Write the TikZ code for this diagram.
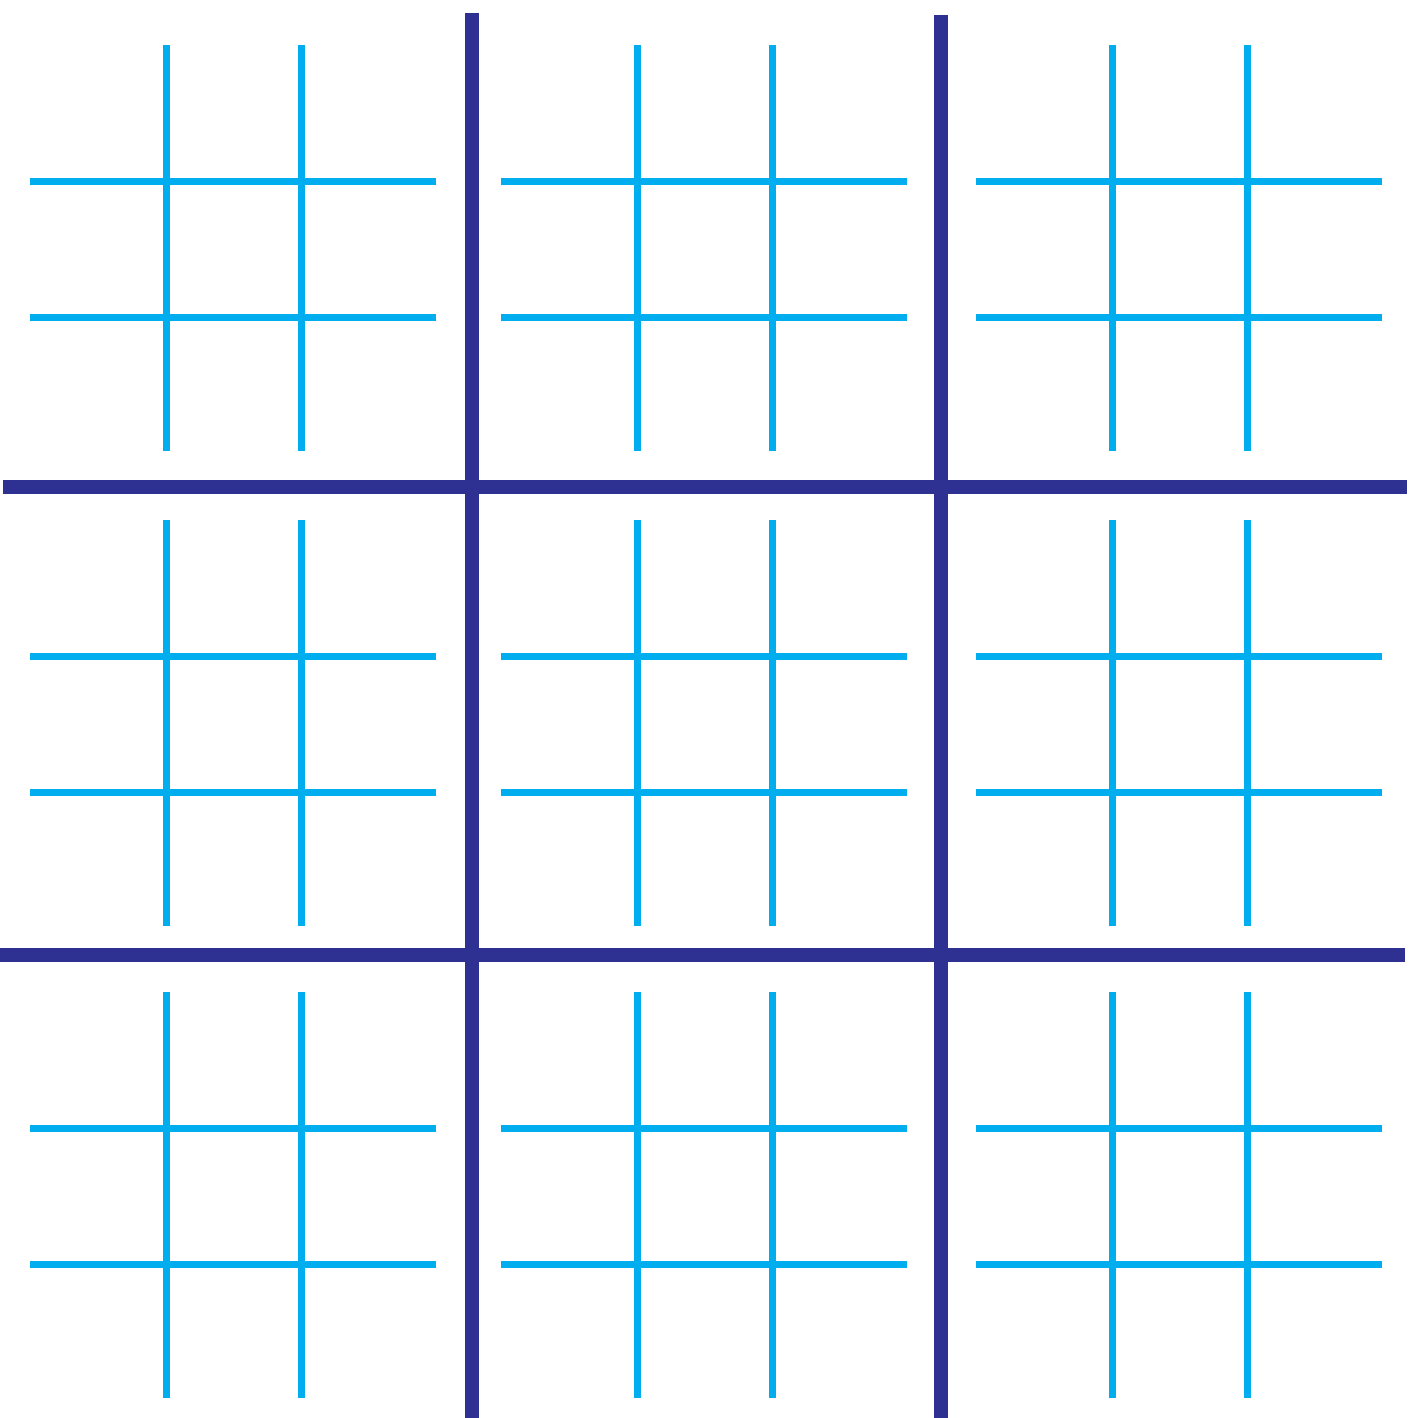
\documentclass[tikz,border=0pt]{standalone}
\usepackage{tikz}

\definecolor{boardnavy}{RGB}{46,49,146}
\definecolor{cellcyan}{RGB}{0,174,239}

\begin{document}
\begin{tikzpicture}[x=0.5pt,y=-0.5pt,
  bigline/.style={boardnavy,line width=7pt},
  smallline/.style={cellcyan,line width=3.5pt}]
  \useasboundingbox (0,0) rectangle (1408,1418);
  % small boards
  \foreach \dx in {0,471,946}{
    \foreach \dy in {0,475,947}{
      \begin{scope}[shift={(\dx,\dy)}]
        \draw[smallline] (166,45) -- (166,451);
        \draw[smallline] (301,45) -- (301,451);
        \draw[smallline] (30,181) -- (436,181);
        \draw[smallline] (30,317) -- (436,317);
      \end{scope}
    }
  }
  % big board
  \draw[bigline] (472,13) -- (472,1418);
  \draw[bigline] (941,15) -- (941,1418);
  \draw[bigline] (3,487) -- (1407,487);
  \draw[bigline] (0,955) -- (1405,955);
\end{tikzpicture}
\end{document}
